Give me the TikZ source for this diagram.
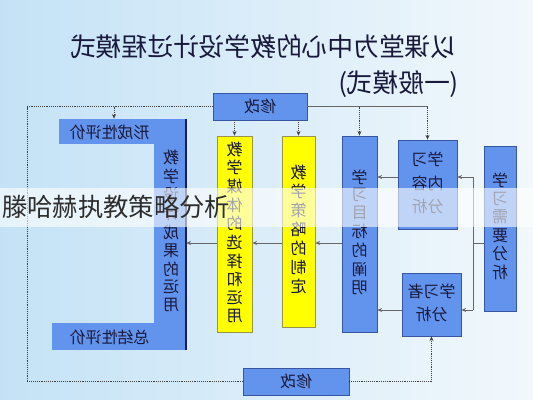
\documentclass[tikz,border=0pt]{standalone}
\usepackage{fontspec}
\usepackage{graphicx}
\newfontfamily\cjk{Noto Sans CJK SC}
\usetikzlibrary{arrows.meta}
\definecolor{boxblue}{RGB}{99,148,237}
\definecolor{boxedge}{RGB}{55,85,160}
\definecolor{navy}{RGB}{25,30,80}
\definecolor{ybox}{RGB}{255,255,0}
\definecolor{yedge}{RGB}{150,150,70}
\definecolor{ink}{RGB}{25,25,60}
\definecolor{bgL}{RGB}{196,226,246}
\definecolor{bgR}{RGB}{242,248,252}
\definecolor{wmark}{RGB}{45,45,45}
\newcommand\rb[1]{\reflectbox{#1}}
\newcommand\vt[2][13.3pt]{\reflectbox{\fontsize{12pt}{#1}\selectfont\begin{tabular}{@{}c@{}}#2\end{tabular}}}
\newcommand\hlines[2][17.6pt]{\reflectbox{\fontsize{12pt}{#1}\selectfont\begin{tabular}{@{}c@{}}#2\end{tabular}}}
\tikzset{
  bluebox/.style={rectangle, fill=boxblue, draw=boxedge, line width=0.6pt, inner sep=0pt, text=ink, font=\cjk\fontsize{12pt}{14pt}\selectfont},
  yelbox/.style={bluebox, fill=ybox, draw=yedge},
  barbox/.style={rectangle, fill=boxblue, inner sep=0pt},
  lbl/.style={text=ink, inner sep=0pt, font=\cjk\fontsize{12pt}{14pt}\selectfont},
  dotline/.style={draw=black!75, line width=0.7pt, dash pattern=on 0.7pt off 0.7pt},
  dotarrow/.style={dotline, -{Stealth[length=3.5pt,width=3pt]}},
  solline/.style={draw=black!60, line width=0.5pt},
  solarrow/.style={solline, -{Stealth[length=3.5pt,width=3pt]}},
}
\begin{document}
\begin{tikzpicture}[x=0.75pt,y=-0.75pt]
\useasboundingbox (0,0) rectangle (533,400);
\shade[left color=bgL, right color=bgR] (0,0) rectangle (533,400);

% title
\node[text=ink, inner sep=0pt, font=\cjk\fontsize{19.3pt}{22pt}\selectfont] (title) at (263.5,47) {\rb{以课堂为中心的教学设计过程模式}};
\node[text=ink, inner sep=0pt, anchor=east, font=\cjk\fontsize{19.3pt}{22pt}\selectfont] (subtitle) at (459,84) {\rb{(一般模式)}};

% L-shaped evaluation bar
\node[barbox, minimum width=95.25pt, minimum height=18.75pt] (Lt) at (122.5,131.5) {};
\node[barbox, minimum width=100.5pt, minimum height=20.25pt] (Lb) at (119,336.5) {};
\node[barbox, minimum width=24pt, minimum height=173.25pt] (Lv) at (170,234.5) {};
\draw[navy, line width=1.5pt] (Lv.north east) -- (Lv.south east);
\node[lbl] (tLt) at (109.5,132) {\rb{形成性评价}};
\node[lbl] (tLb) at (109.5,337) {\rb{总结性评价}};
\node[lbl] (tLv) at (171,233) {\vt[13.2pt]{教\\学\\设\\计\\成\\果\\的\\运\\用}};

% boxes
\node[bluebox, minimum width=70.5pt, minimum height=20.25pt] (mod1) at (260,106.5) {\rb{修改}};
\node[bluebox, minimum width=79.5pt, minimum height=20.25pt] (mod2) at (296,381.5) {\rb{修改}};
\node[yelbox, minimum width=26.25pt, minimum height=147pt] (med) at (234.5,234) {\vt[13.1pt]{教\\学\\媒\\体\\的\\选\\择\\和\\运\\用}};
\node[yelbox, minimum width=24.75pt, minimum height=143.25pt] (str) at (298.5,231.5) {\vt[13.4pt]{教\\学\\策\\略\\的\\制\\定}};
\node[bluebox, minimum width=26.25pt, minimum height=147pt] (obj) at (359.5,234) {\vt[13.4pt]{学\\习\\目\\标\\的\\阐\\明}};
\node[bluebox, minimum width=44.25pt, minimum height=66.75pt] (con) at (427.5,184.5) {\hlines{学习\\内容\\分析}};
\node[bluebox, minimum width=44.25pt, minimum height=47.25pt] (lrn) at (431.5,304.5) {\hlines[17.2pt]{学习者\\分析}};
\node[bluebox, minimum width=24pt, minimum height=123.75pt] (need) at (500,228.5) {\vt[13.8pt]{学\\习\\需\\要\\分\\析}};

% dotted revision loops
\coordinate (c1) at (27,106.5);
\coordinate (c2) at (27,381.5);
\coordinate (j1) at (114,106.5);
\draw[dotline] (mod1.west) -- (c1) -- (c2) -- (mod2.west);
\draw[dotarrow] (j1) -- (j1 |- Lt.north);
\draw[dotarrow] (mod1.south -| med.north) -- (med.north);
\draw[dotarrow] (mod1.south -| str.north) -- (str.north);
\draw[solline] (mod1.east) -- (mod1.east -| con.north);
\draw[dotarrow] (mod1.east -| obj.north) -- (obj.north);
\draw[dotarrow] (mod1.east -| con.north) -- (con.north);
\draw[dotarrow] (mod2.east) -| (lrn.south);

% solid flow
\coordinate (b1) at (473,243);
\coordinate (b2) at (473,177);
\coordinate (b3) at (473,310);
\draw[solline] (b2) -- (b3);
\draw[solline] (need.west |- b1) -- (b1);
\draw[solarrow] (b2) -- (b2 -| con.east);
\draw[solarrow] (b3) -- (b3 -| lrn.east);
\draw[solarrow] (con.west |- b2) -- (b2 -| obj.east);
\draw[solarrow] (lrn.west |- b3) -- (b3 -| obj.east);
\draw[solarrow] (obj.west |- b1) -- (b1 -| str.east);
\draw[solarrow] (str.west |- b1) -- (b1 -| med.east);
\draw[solarrow] (med.west |- b1) -- (b1 -| Lv.east);

% watermark band
\fill[white, opacity=0.6] (0,188) rectangle (533,227);
\node[anchor=west, inner sep=0pt, text=wmark, font=\cjk\fontsize{19pt}{22pt}\selectfont] (wm) at (2,207) {滕哈赫执教策略分析};
\end{tikzpicture}
\end{document}
